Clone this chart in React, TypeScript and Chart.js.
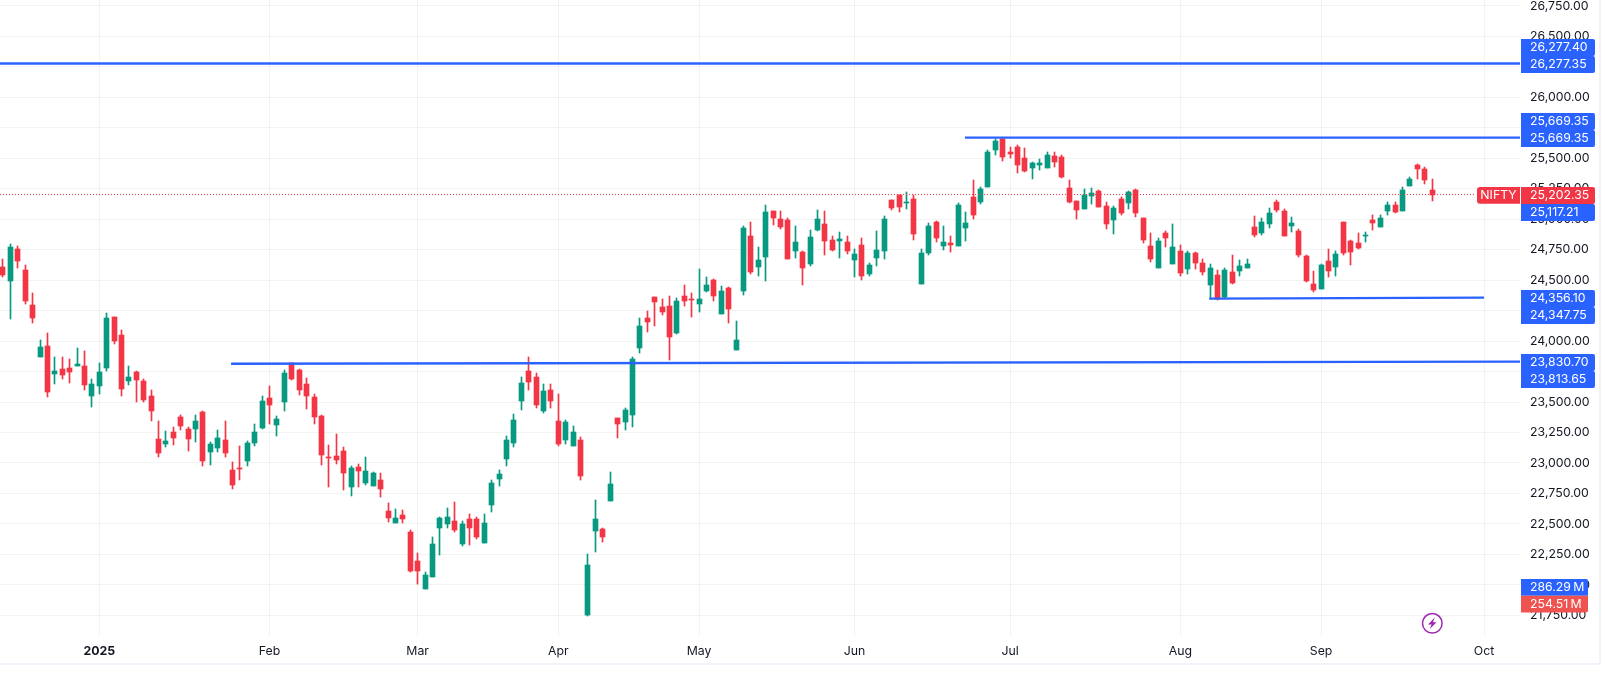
import React, { useEffect, useRef } from "react";
import { Chart, registerables } from "chart.js";

Chart.register(...registerables);

const opens = [
  24608,24493,24755,24583,24296,23869,23959,23730,23771,23779,
  23795,23795,23549,23631,23779,24197,24050,23672,23746,23672,
  23549,23196,23155,23254,23377,23278,23278,23418,23090,23122,
  23188,22942,22958,23016,23164,23287,23533,23311,23500,23823,
  23763,23648,23541,23385,23049,23057,23098,22803,22967,22835,
  22811,22860,22606,22507,22573,22433,22195,21966,22064,22466,
  22499,22523,22335,22540,22540,22343,22655,22868,23032,23164,
  23508,23754,23705,23426,23598,23344,23188,23139,23188,21752,
  22442,22458,22688,23369,23336,23393,23943,24189,24361,24279,
  24288,24066,24370,24345,24304,24411,24501,24222,24435,23927,
  24411,24862,24608,24690,25067,25001,24993,24739,24731,24632,
  24911,24960,24829,24821,24813,24665,24788,24550,24681,24739,
  25157,25198,25133,25166,24468,24722,24977,24780,24804,24780,
  24928,25182,25141,25264,25568,25658,25551,25592,25502,25420,
  25444,25420,25518,25510,25256,25149,25083,25190,25231,25108,
  24993,25165,25133,25239,25010,24780,24599,24886,24632,24739,
  24591,24723,24640,24460,24542,24361,24567,24575,24599,24936,
  24887,24960,25141,25067,24944,24903,24698,24468,24427,24657,
  24608,24977,24821,24805,24862,24993,24936,25067,25116,25067,
  25272,25445,25412,25239,
];
const closes = [
  24542,24772,24657,24329,24189,23951,23582,23754,23721,23746,
  23812,23639,23648,23746,24189,24000,23607,23705,23680,23516,
  23426,23081,23180,23204,23303,23196,23344,23016,23155,23204,
  23081,22819,22950,23164,23254,23508,23475,23360,23738,23689,
  23598,23549,23377,23065,23040,23024,22917,22958,22934,22934,
  22917,22786,22548,22548,22540,22113,22113,22080,22335,22548,
  22556,22450,22499,22466,22392,22507,22835,22909,23188,23352,
  23656,23664,23475,23590,23508,23155,23336,23254,22893,22163,
  22540,22392,22827,23319,23434,23853,24124,24156,24320,24238,
  24033,24329,24329,24337,24345,24460,24370,24411,24263,24009,
  24928,24567,24665,25059,25010,24936,24673,24813,24599,24854,
  25001,24821,24747,24837,24739,24714,24534,24624,24747,25001,
  25092,25100,25141,24878,24722,24944,24845,24813,24788,25116,
  24969,25034,25248,25551,25641,25510,25535,25444,25395,25461,
  25461,25527,25469,25346,25141,25075,25198,25215,25100,24960,
  25092,25051,25223,25051,24829,24673,24821,24845,24772,24558,
  24722,24640,24567,24599,24345,24583,24474,24616,24632,24870,
  24977,25051,25075,24862,24969,24706,24493,24419,24624,24575,
  24714,24722,24731,24763,24870,24969,25010,25116,25059,25239,
  25330,25412,25321,25202.35,
];
const highs = [
  24673,24796,24780,24624,24394,24009,24066,23869,23869,23853,
  23943,23918,23689,23820,24230,24197,24091,23795,23754,23689,
  23598,23344,23262,23295,23393,23295,23393,23426,23172,23270,
  23344,23008,23139,23180,23319,23549,23631,23385,23763,23823,
  23771,23697,23566,23393,23147,23237,23131,22975,22991,23049,
  22926,22917,22671,22622,22614,22450,22261,22105,22392,22556,
  22630,22679,22523,22581,22556,22581,22860,22942,23221,23401,
  23705,23869,23738,23648,23648,23566,23352,23303,23213,22253,
  22696,22466,22926,23369,23451,23869,24189,24247,24361,24345,
  24370,24353,24460,24394,24591,24526,24509,24452,24443,24165,
  24944,24977,24772,25116,25067,25067,25010,24944,24739,24911,
  25075,25067,24862,24895,24862,24755,24845,24640,24903,25026,
  25157,25198,25223,25198,24755,24969,24985,24944,24862,25133,
  25059,25321,25264,25568,25658,25666,25592,25609,25584,25469,
  25494,25551,25551,25527,25321,25149,25248,25256,25239,25141,
  25108,25182,25231,25248,25010,24886,24845,24903,24960,24788,
  24739,24731,24673,24632,24583,24599,24706,24665,24673,25026,
  25010,25092,25157,25083,25018,24919,24706,24575,24632,24755,
  24739,24977,24829,24887,24895,25034,25034,25141,25141,25264,
  25346,25453,25428,25330,
];
const lows = [
  24526,24181,24599,24304,24148,23869,23541,23648,23689,23656,
  23795,23598,23459,23566,23754,23976,23549,23639,23500,23500,
  23344,23049,23131,23147,23270,23098,23172,22975,22983,23090,
  23049,22786,22860,22975,23139,23278,23319,23221,23426,23680,
  23557,23443,23319,22983,22803,22991,22778,22729,22803,22819,
  22811,22720,22515,22507,22507,22105,22007,21966,22064,22245,
  22466,22433,22318,22327,22376,22343,22597,22811,22975,23131,
  23434,23598,23451,23410,23451,23139,23155,23139,22860,21744,
  22269,22351,22688,23204,23270,23295,23902,24074,24123,24214,
  23845,24058,24288,24197,24238,24402,24329,24222,24148,23927,
  24378,24550,24534,24493,24952,24919,24673,24681,24460,24616,
  24903,24706,24739,24681,24714,24526,24501,24534,24616,24673,
  25075,25059,25084,24829,24468,24706,24813,24747,24731,24780,
  24821,25001,25125,25264,25527,25477,25502,25379,25387,25330,
  25403,25420,25428,25338,25133,25001,25083,25125,25100,24919,
  24878,25034,25083,25018,24805,24649,24599,24772,24632,24534,
  24550,24591,24542,24345,24337,24353,24468,24534,24599,24854,
  24870,24928,25059,24862,24895,24690,24485,24402,24427,24525,
  24534,24706,24624,24755,24813,24911,24936,25034,25051,25067,
  25272,25330,25289,25149,
];

const timeTickIndex = [13, 36, 56, 75, 94, 115, 136, 159, 178, 200];
const timeTickLabel = ["2025", "Feb", "Mar", "Apr", "May", "Jun", "Jul", "Aug", "Sep", "Oct"];
const priceTicks = [
  26750, 26500, 26250, 26000, 25750, 25500, 25250, 25000, 24750, 24500, 24250,
  24000, 23750, 23500, 23250, 23000, 22750, 22500, 22250, 22000, 21750,
];

const visibleFirst = -0.405;
const visibleLast = 204.86;
const lastPrice = 25202.35;
const lastPriceLineEnd = 198.8;

const levelStart = [visibleFirst, 129.9, 162.9, 30.8];
const levelEnd = [visibleLast, visibleLast, 200, visibleLast];
const levelFrom = [26277.35, 25669.35, 24347.75, 23813.65];
const levelTo = [26277.4, 25669.35, 24356.1, 23830.7];

const BLUE = "#2962ff";
const RED = "#f23645";
const GREEN = "#089981";
const TEXT = "#131722";
const FONT = "Inter";
const FONT_SIZE = 12.3;

// text, price the tag hangs from, stacked row relative to that price, colour
const priceTags: [string, number, number, string][] = [
  ["26,277.40", 26277.35, -1, BLUE],
  ["26,277.35", 26277.35, 0, BLUE],
  ["25,669.35", 25669.35, -1, BLUE],
  ["25,669.35", 25669.35, 0, BLUE],
  ["24,356.10", 24356.1, 0, BLUE],
  ["24,347.75", 24356.1, 1, BLUE],
  ["23,830.70", 23830.7, 0, BLUE],
  ["23,813.65", 23830.7, 1, BLUE],
  ["25,117.21", 25202.35, 1, BLUE],
  ["25,202.35", 25202.35, 0, RED],
];
const volumeTags: [string, string][] = [
  ["286.29\u2009M", BLUE],
  ["254.51\u2009M", "#ef5350"],
];

const snapPlugin = {
  id: "snap",
  afterDatasetsUpdate(chart: any) {
    chart.data.datasets.forEach((_: any, di: number) => {
      const meta = chart.getDatasetMeta(di);
      if (meta.type !== "bar") return;
      meta.data.forEach((el: any) => {
        el.x = Math.floor(el.x) + 0.5;
        el.y = Math.round(el.y);
        el.base = Math.round(el.base);
        if (el.y === el.base) el.base += 1;
      });
    });
  },
};

const decorPlugin = {
  id: "decor",
  afterDraw(chart: any) {
    const { ctx, scales } = chart;
    const py = scales.y;
    ctx.save();
    ctx.textBaseline = "middle";
    ctx.font = `${FONT_SIZE}px ${FONT}`;
    const tagLeft = 1521;
    const textLeft = 1530;
    const rowH = 16.8;

    priceTags.forEach(([text, anchor, row, color]) => {
      const top = Math.round(py.getPixelForValue(anchor) - 7.7 + row * rowH);
      ctx.fillStyle = color;
      ctx.beginPath();
      ctx.roundRect(tagLeft, top, 74, rowH + 0.2, [0, 2, 2, 0]);
      ctx.fill();
      ctx.fillStyle = "#fff";
      ctx.textAlign = "left";
      ctx.fillText(text, textLeft, top + 8.4);
    });

    const redTop = Math.round(py.getPixelForValue(lastPrice) - 7.7);
    ctx.fillStyle = RED;
    ctx.beginPath();
    ctx.roundRect(1477, redTop, 43, rowH, [3, 0, 0, 3]);
    ctx.fill();
    ctx.fillStyle = "#fff";
    ctx.textAlign = "center";
    ctx.fillText("NIFTY", 1498.5, redTop + 8.4);

    volumeTags.forEach(([text, color], i) => {
      const top = 579 + i * rowH;
      ctx.fillStyle = color;
      ctx.beginPath();
      ctx.roundRect(tagLeft, top, 67, rowH, i === 0 ? [0, 2, 0, 0] : [0, 0, 2, 0]);
      ctx.fill();
      ctx.fillStyle = "#fff";
      ctx.textAlign = "left";
      ctx.fillText(text, textLeft, top + 8.4);
    });

    ctx.strokeStyle = "#9c27b0";
    ctx.lineWidth = 1.5;
    ctx.beginPath();
    ctx.arc(1432.3, 623.3, 9.8, 0, Math.PI * 2);
    ctx.stroke();
    ctx.fillStyle = "#9c27b0";
    ctx.beginPath();
    ctx.moveTo(1434.8, 617.6);
    ctx.lineTo(1428, 624.4);
    ctx.lineTo(1431.6, 624.4);
    ctx.lineTo(1429.8, 629);
    ctx.lineTo(1436.6, 622.3);
    ctx.lineTo(1433, 622.3);
    ctx.closePath();
    ctx.fill();

    ctx.fillStyle = "#f0f3fa";
    ctx.fillRect(0, 663, 1601, 2);
    ctx.fillRect(1599, 0, 2, 665);
    ctx.restore();
  },
};

export default function App() {
  const ref = useRef<HTMLCanvasElement | null>(null);

  useEffect(() => {
    if (!ref.current) return;
    const candleColor = opens.map((o, i) => (closes[i] < o ? RED : GREEN));
    const levelSets = levelFrom.map((from, i) => ({
      type: "line" as const,
      data: [
        { x: levelStart[i], y: from },
        { x: levelEnd[i], y: levelTo[i] },
      ],
      borderColor: BLUE,
      borderWidth: 2.3,
      pointRadius: 0,
      tension: 0,
      order: 0,
    }));
    const chart = new Chart(ref.current, {
      type: "bar",
      data: {
        datasets: [
          {
            type: "line" as const,
            data: [
              { x: visibleFirst, y: lastPrice },
              { x: lastPriceLineEnd, y: lastPrice },
            ],
            borderColor: RED,
            borderWidth: 1,
            borderDash: [1, 2],
            pointRadius: 0,
            order: 1,
          },
          ...levelSets,
          {
            data: opens.map((_, i) => ({ x: i, y: [lows[i], highs[i]] })),
            backgroundColor: candleColor,
            barThickness: 1,
            grouped: false,
            order: 3,
          },
          {
            data: opens.map((o, i) => ({ x: i, y: [o, closes[i]] })),
            backgroundColor: candleColor,
            barThickness: 5,
            grouped: false,
            order: 2,
          },
        ] as any,
      },
      options: {
        animation: false,
        responsive: false,
        devicePixelRatio: 1,
        layout: { padding: 0 },
        plugins: { legend: { display: false }, tooltip: { enabled: false } },
        scales: {
          x: {
            type: "linear",
            min: visibleFirst,
            max: visibleLast,
            offset: false,
            afterBuildTicks: (s: any) => {
              s.ticks = timeTickIndex.map((value) => ({ value }));
            },
            afterFit: (s: any) => {
              s.height = 57;
              s.paddingLeft = 0;
              s.paddingRight = 0;
              s.paddingTop = 0;
              s.paddingBottom = 0;
            },
            grid: { color: "rgba(42,46,57,0.06)", drawTicks: false, offset: false },
            border: { display: false },
            ticks: {
              autoSkip: false,
              maxRotation: 0,
              padding: 8,
              color: TEXT,
              font: (c: any) => ({
                family: FONT,
                size: FONT_SIZE,
                weight: c.tick && c.tick.value === timeTickIndex[0] ? "bold" : "normal",
              }),
              callback: (v: any) => timeTickLabel[timeTickIndex.indexOf(Number(v))] ?? "",
            },
          },
          y: {
            type: "linear",
            position: "right",
            min: 21580.1,
            max: 26798.3,
            afterBuildTicks: (s: any) => {
              s.ticks = priceTicks.map((value) => ({ value }));
            },
            afterFit: (s: any) => {
              s.width = 90;
              s.paddingTop = 0;
              s.paddingBottom = 0;
              s.paddingLeft = 0;
              s.paddingRight = 0;
            },
            grid: { color: "rgba(42,46,57,0.06)", drawTicks: false },
            border: { display: false },
            ticks: {
              autoSkip: false,
              padding: 10,
              color: TEXT,
              font: { family: FONT, size: FONT_SIZE },
              callback: (v: any) =>
                Number(v).toLocaleString("en-US", {
                  minimumFractionDigits: 2,
                  maximumFractionDigits: 2,
                }),
            },
          },
        },
      } as any,
      plugins: [snapPlugin, decorPlugin],
    });
    return () => chart.destroy();
  }, []);

  return (
    <div style={{ position: "fixed", left: 0, top: 0, width: 1610, height: 693, background: "#fff" }}>
      <canvas ref={ref} width={1610} height={693} style={{ display: "block", width: 1610, height: 693 }} />
    </div>
  );
}
